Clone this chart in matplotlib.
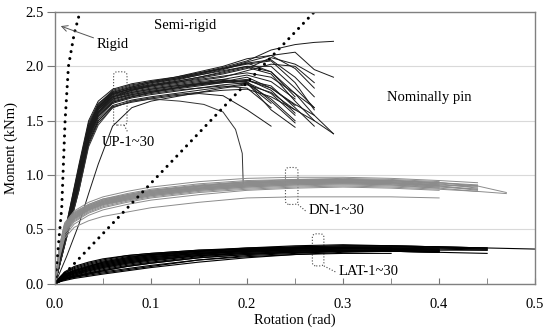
import matplotlib
matplotlib.use('Agg')

import matplotlib.pyplot as plt
from matplotlib.patches import FancyBboxPatch
from matplotlib.ticker  import FormatStrFormatter

plt.rcParams['font.family'] = ['Liberation Serif', 'DejaVu Serif']

#########################################
# data
#########################################

# UP-1~30 : moment at common rotation stations (curve stops where its list stops)
UP_ROT = [0, 0.012, 0.025, 0.035, 0.045, 0.06, 0.08, 0.1, 0.125, 0.15, 0.175, 0.2, 0.225, 0.25, 0.27, 0.29]
UP_MOM = [
  [0, .55, 1.08, 1.48, 1.66, 1.76, 1.81, 1.85, 1.89, 1.94, 1.99, 2.05, 2.15, 2.20, 2.22, 2.23],
  [0, .50, 1.02, 1.42, 1.62, 1.75, 1.80, 1.84, 1.88, 1.93, 1.98, 2.04, 2.10, 2.13, 1.97, 1.90],
  [0, .52, 1.05, 1.45, 1.64, 1.77, 1.82, 1.86, 1.90, 1.95, 2.00, 2.07, 2.10, 1.98, 1.80],
  [0, .48, 0.98, 1.40, 1.60, 1.74, 1.80, 1.83, 1.87, 1.92, 1.97, 2.03, 2.06, 1.90, 1.72],
  [0, .50, 1.00, 1.43, 1.63, 1.76, 1.81, 1.85, 1.88, 1.92, 1.96, 2.00, 1.95, 1.75, 1.55, 1.38],
  [0, .53, 1.06, 1.46, 1.65, 1.78, 1.83, 1.86, 1.89, 1.93, 1.98, 2.02, 2.05, 1.85, 1.60],
  [0, .47, 0.96, 1.38, 1.58, 1.72, 1.78, 1.82, 1.86, 1.90, 1.95, 2.00, 2.00, 1.80, 1.62],
  [0, .55, 1.10, 1.50, 1.68, 1.79, 1.84, 1.87, 1.90, 1.94, 1.98, 2.03, 1.95, 1.72],
  [0, .50, 1.00, 1.42, 1.62, 1.75, 1.79, 1.83, 1.86, 1.90, 1.94, 1.99, 1.93, 1.68, 1.50],
  [0, .49, 0.99, 1.40, 1.60, 1.73, 1.78, 1.82, 1.85, 1.89, 1.93, 1.98, 2.08, 2.02, 1.92],
  [0, .45, 0.93, 1.35, 1.55, 1.68, 1.73, 1.76, 1.79, 1.82, 1.85, 1.87, 1.82, 1.62, 1.45],
  [0, .46, 0.95, 1.37, 1.57, 1.70, 1.75, 1.78, 1.81, 1.84, 1.86, 1.88, 1.78, 1.57],
  [0, .44, 0.90, 1.32, 1.52, 1.66, 1.71, 1.74, 1.77, 1.80, 1.83, 1.85, 1.75, 1.55],
  [0, .47, 0.96, 1.38, 1.58, 1.71, 1.76, 1.79, 1.82, 1.85, 1.87, 1.86, 1.68, 1.48],
  [0, .43, 0.88, 1.30, 1.50, 1.64, 1.69, 1.72, 1.75, 1.78, 1.81, 1.84, 1.70, 1.50],
  [0, .48, 0.98, 1.40, 1.60, 1.72, 1.77, 1.80, 1.83, 1.86, 1.88, 1.85, 1.60, 1.44],
  [0, .45, 0.92, 1.33, 1.54, 1.67, 1.72, 1.75, 1.78, 1.80, 1.82, 1.80, 1.62],
  [0, .42, 0.86, 1.28, 1.48, 1.62, 1.68, 1.71, 1.74, 1.76, 1.78, 1.79, 1.72, 1.60, 1.50, 1.38],
  [0, .50, 1.00, 1.41, 1.60, 1.72, 1.76, 1.79, 1.82, 1.84, 1.86, 1.84, 1.66],
  [0, .46, 0.94, 1.36, 1.56, 1.69, 1.74, 1.77, 1.80, 1.83, 1.85, 1.87, 1.80, 1.65, 1.55],
  [0, .44, 0.90, 1.30, 1.50, 1.63, 1.67, 1.70, 1.73, 1.75, 1.73, 1.60, 1.45],
  [0, .51, 1.03, 1.44, 1.63, 1.75, 1.79, 1.82, 1.85, 1.88, 1.91, 1.94, 1.90, 1.75, 1.62],
  [0, .49, 0.99, 1.41, 1.61, 1.74, 1.78, 1.81, 1.84, 1.87, 1.90, 1.96, 2.02, 2.00, 1.85],
  [0, .47, 0.96, 1.37, 1.57, 1.70, 1.74, 1.77, 1.80, 1.84, 1.88, 1.92, 1.86, 1.70],
  [0, .45, 0.92, 1.34, 1.54, 1.67, 1.72, 1.76, 1.80, 1.83, 1.86, 1.90, 1.80, 1.64],
  [0, .25, 0.55, 0.83, 1.10, 1.45, 1.62, 1.68, 1.72, 1.76, 1.80, 1.83, 1.76, 1.60],
]

# the UP specimen that lost its moment suddenly
UP_DROP_ROT = [0, 0.012, 0.025, 0.035, 0.045, 0.06, 0.08, 0.1, 0.13, 0.155, 0.175, 0.188, 0.195, 0.196]
UP_DROP_MOM = [0, 0.42, 0.86, 1.26, 1.46, 1.62, 1.68, 1.70, 1.68, 1.65, 1.58, 1.42, 1.20, 0.92]

# DN-1~30
DN_ROT = [0, 0.005, 0.01, 0.02, 0.035, 0.05, 0.075, 0.1, 0.15, 0.2, 0.25, 0.3, 0.35, 0.4, 0.44, 0.47]
DN_MOM = [
  [0, .36, .56, .67, .75, .80, .85, .89, .94, .97, .98, .98, .97, .95, .93],
  [0, .34, .54, .65, .73, .78, .83, .87, .92, .95, .96, .97, .96, .94],
  [0, .33, .52, .63, .71, .76, .81, .85, .90, .94, .95, .96, .95, .93, .90, .84],
  [0, .32, .51, .62, .70, .75, .80, .84, .89, .92, .94, .95, .94, .92, .88],
  [0, .35, .55, .66, .73, .78, .82, .86, .91, .94, .96, .96, .95, .92],
  [0, .30, .50, .61, .69, .74, .79, .83, .88, .91, .93, .94, .93, .90, .86],
  [0, .33, .53, .64, .72, .77, .82, .86, .90, .93, .95, .95, .94, .91],
  [0, .31, .50, .60, .68, .73, .78, .82, .87, .90, .92, .93, .92, .90, .87],
  [0, .34, .53, .64, .71, .76, .80, .84, .89, .92, .94, .95, .94],
  [0, .29, .48, .59, .67, .72, .77, .81, .86, .89, .91, .92, .91, .88, .85],
  [0, .32, .52, .63, .71, .76, .81, .85, .90, .93, .95, .96, .95, .93, .91],
  [0, .30, .49, .60, .68, .73, .78, .82, .87, .90, .92, .93, .92, .89],
  [0, .28, .47, .58, .66, .71, .76, .80, .85, .88, .90, .91, .90, .88],
  [0, .33, .52, .62, .70, .75, .80, .84, .88, .91, .93, .94, .93, .91, .89],
  [0, .27, .46, .57, .65, .70, .75, .79, .84, .87, .89, .90, .89, .87, .85, .83],
  [0, .31, .51, .62, .70, .75, .79, .83, .88, .91, .93, .93, .92],
  [0, .29, .49, .60, .68, .73, .77, .81, .86, .89, .91, .92, .91, .89, .87],
  [0, .35, .54, .65, .72, .77, .81, .85, .90, .93, .94, .94, .93, .90],
  [0, .26, .44, .55, .63, .68, .73, .77, .82, .86, .88, .89, .88, .86],
  [0, .32, .51, .61, .69, .74, .79, .83, .88, .92, .94, .95, .95, .93, .90],
  [0, .25, .42, .52, .58, .62, .66, .70, .75, .79, .80, .80, .80, .79],
  [0, .30, .50, .61, .69, .74, .78, .82, .87, .90, .92, .93, .93, .91, .90],
]

# LAT-1~30
LAT_ROT = [0, 0.005, 0.01, 0.02, 0.035, 0.05, 0.075, 0.1, 0.15, 0.2, 0.25, 0.3, 0.35, 0.4, 0.45, 0.5]
LAT_MOM = [
  [0, .06, .10, .14, .18, .21, .25, .27, .30, .32, .33, .34, .34, .34, .33, .32],
  [0, .05, .08, .12, .16, .19, .23, .26, .29, .31, .32, .33, .33, .33, .32],
  [0, .04, .07, .10, .14, .17, .21, .24, .28, .30, .31, .32, .32, .31, .31],
  [0, .05, .09, .13, .17, .20, .24, .27, .30, .32, .34, .35, .35, .34],
  [0, .03, .05, .08, .11, .14, .18, .21, .26, .29, .31, .32, .32, .31],
  [0, .04, .06, .09, .12, .15, .19, .22, .26, .29, .30, .31, .31],
  [0, .03, .05, .07, .10, .12, .16, .19, .24, .27, .29, .30, .30, .30],
  [0, .02, .04, .06, .08, .10, .13, .16, .22, .26, .28, .30, .31, .30],
  [0, .06, .10, .15, .19, .22, .26, .28, .31, .33, .34, .35, .35, .34, .33],
  [0, .03, .06, .09, .13, .16, .20, .23, .27, .30, .32, .33, .33, .32],
  [0, .02, .03, .05, .07, .09, .12, .15, .20, .24, .27, .29, .30, .29],
  [0, .05, .08, .11, .15, .18, .22, .25, .29, .31, .33, .34, .34, .33, .32],
  [0, .04, .07, .11, .15, .18, .22, .25, .28, .30, .31, .31, .31],
  [0, .03, .06, .10, .14, .17, .21, .24, .28, .31, .33, .33, .32, .32, .31],
  [0, .02, .04, .07, .10, .13, .17, .20, .25, .28, .30, .31, .31, .30],
  [0, .05, .09, .12, .16, .19, .23, .26, .30, .32, .33, .33, .33],
  [0, .03, .05, .08, .12, .15, .19, .22, .26, .28, .29, .30, .30, .29],
  [0, .04, .08, .12, .16, .20, .24, .27, .30, .33, .35, .36, .35, .34, .33],
  [0, .03, .05, .07, .09, .11, .14, .17, .22, .25, .27, .28, .28],
  [0, .06, .11, .16, .20, .23, .26, .28, .31, .32, .33, .33, .32, .31],
  [0, .02, .04, .06, .09, .12, .16, .19, .24, .27, .29, .30, .30, .29, .28],
  [0, .04, .07, .10, .13, .16, .20, .23, .27, .30, .32, .33, .33, .32],
]

# classification boundaries
RIGID_ROT = [0, 0.007, 0.0105, 0.014, 0.02, 0.026]
RIGID_MOM = [0, 0.70, 1.50, 2.00, 2.30, 2.50]
PIN_ROT   = [0, 0.27]
PIN_MOM   = [0, 2.50]

#########################################

FS = 10.5

fig = plt.figure(figsize=(5.5, 3.32), dpi=100)
ax  = fig.add_axes([0.1, 0.145, 0.873, 0.819])

for ys in UP_MOM:
  ax.plot(UP_ROT[:len(ys)], ys, color='#1a1a1a', linewidth=0.7)
ax.plot(UP_DROP_ROT, UP_DROP_MOM, color='#333333', linewidth=0.7)

for ys in DN_MOM:
  ax.plot(DN_ROT[:len(ys)], ys, color='#8c8c8c', linewidth=0.7)

for ys in LAT_MOM:
  ax.plot(LAT_ROT[:len(ys)], ys, color='black', linewidth=0.8)

dots = (0, (0.01, 2.3))
ax.plot(RIGID_ROT, RIGID_MOM, color='black', linewidth=2.2, linestyle=dots, dash_capstyle='round')
ax.plot(PIN_ROT, PIN_MOM, color='black', linewidth=2.2, linestyle=dots, dash_capstyle='round')

ax.set_xlim(0, 0.5)
ax.set_ylim(0, 2.5)
ax.set_xticks([0, 0.1, 0.2, 0.3, 0.4, 0.5])
ax.set_xticks([0.05, 0.15, 0.25, 0.35, 0.45], minor=True)
ax.set_yticks([0, 0.5, 1.0, 1.5, 2.0, 2.5])
ax.xaxis.set_major_formatter(FormatStrFormatter('%.1f'))
ax.yaxis.set_major_formatter(FormatStrFormatter('%.1f'))
ax.tick_params(axis='x', which='both', direction='in', length=4, color='#777777', labelsize=FS, pad=10)
ax.tick_params(axis='y', direction='out', length=6, color='#777777', labelsize=FS, pad=2)
ax.grid(axis='y', color='#d9d9d9', linewidth=0.8)
ax.set_axisbelow(True)
for s in ax.spines.values():
  s.set_color('#808080')
  s.set_linewidth(1.0)

ax.set_xlabel('Rotation (rad)', fontsize=FS, labelpad=2)
ax.set_ylabel('Moment (kNm)', fontsize=FS, labelpad=5)

# region labels
ax.text(0.135, 2.38, 'Semi-rigid', fontsize=FS, ha='center', va='center')
ax.text(0.39, 1.71, 'Nominally pin', fontsize=FS, ha='center', va='center')
ax.annotate('Rigid', xy=(0.006, 2.37), xytext=(0.043, 2.2), fontsize=FS, va='center',
            arrowprops=dict(arrowstyle='->', color='#555555', linewidth=0.7, shrinkA=0, shrinkB=0))

# dotted boxes and their labels
def group_box(x0, x1, y0, y1, tx, ty, label):
  box = FancyBboxPatch((x0, y0), x1 - x0, y1 - y0, boxstyle='round,pad=0,rounding_size=0.004',
                       mutation_aspect=8, fill=False, edgecolor='#444444', linewidth=0.8, linestyle=':')
  ax.add_patch(box)
  ax.plot([x1, tx - 0.003], [y0, ty], color='#444444', linewidth=0.8, linestyle=':')
  ax.text(tx, ty, label, fontsize=FS, ha='left', va='center')

ax.text(0.049, 1.30, 'UP-1~30', fontsize=FS, ha='left', va='center')
box = FancyBboxPatch((0.061, 1.46), 0.014, 0.49, boxstyle='round,pad=0,rounding_size=0.004',
                     mutation_aspect=8, fill=False, edgecolor='#444444', linewidth=0.8, linestyle=':')
ax.add_patch(box)
ax.plot([0.072, 0.076], [1.46, 1.39], color='#444444', linewidth=0.8, linestyle=':')

group_box(0.24, 0.253, 0.73, 1.07, 0.264, 0.67, 'DN-1~30')
group_box(0.268, 0.28, 0.165, 0.46, 0.295, 0.11, 'LAT-1~30')

plt.savefig('out.png', dpi=100)
